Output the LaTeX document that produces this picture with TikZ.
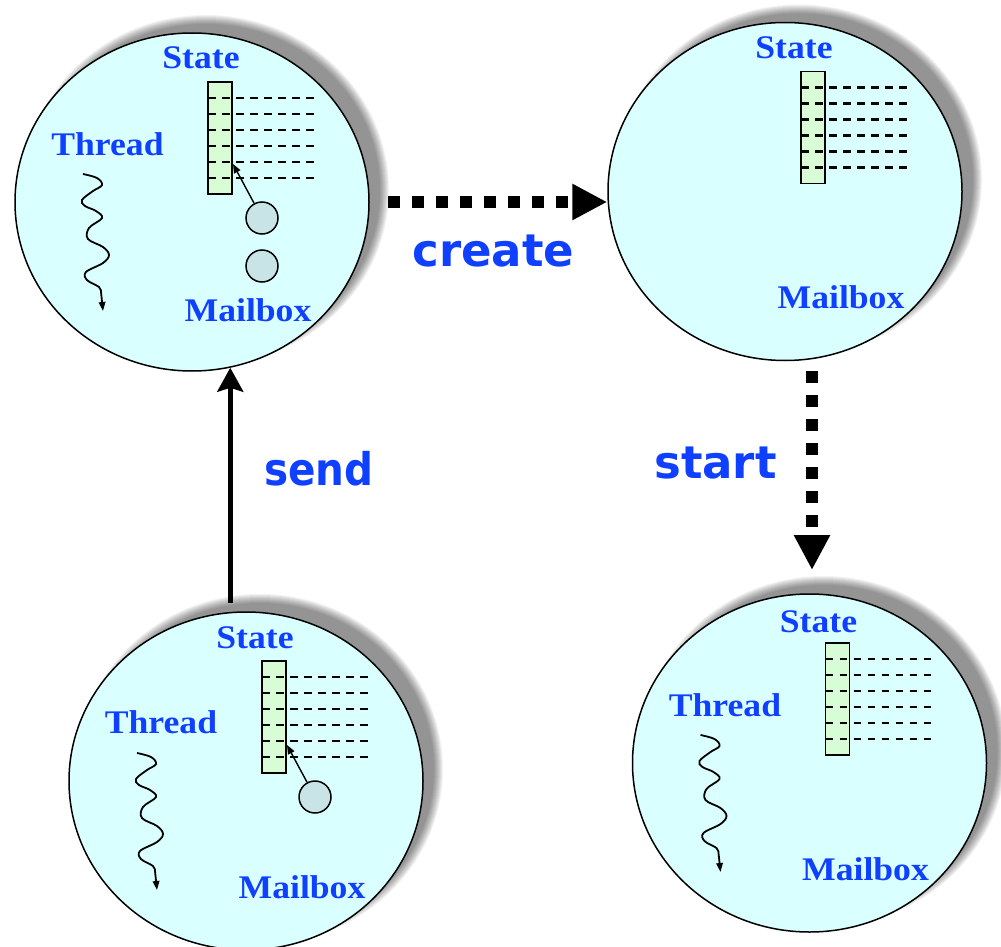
\documentclass[tikz,border=0pt]{standalone}
\usepackage{fontspec}
\usetikzlibrary{shapes.geometric,arrows.meta,calc}

\newfontfamily\labelfont{Liberation Serif}[FakeStretch=1.08]
\newfontfamily\actfont{DejaVu Sans}

\definecolor{cellfill}{RGB}{217,255,255}
\definecolor{statefill}{RGB}{216,253,214}
\definecolor{mboxfill}{RGB}{200,228,230}
\definecolor{inkblue}{RGB}{16,64,255}

\tikzset{
  actor/.style={ellipse, draw, line width=1.5pt, fill=cellfill,
    minimum width=354pt, minimum height=338pt, inner sep=0pt},
  shadowlayer/.style={fill=black, fill opacity=0.052},
  statebox/.style={draw, line width=1.6pt, fill=statefill},
  slot/.style={line width=2.1pt, dash pattern=on 7.5pt off 6.5pt},
  msg/.style={circle, draw, line width=1.5pt, fill=mboxfill,
    minimum size=32pt, inner sep=0pt},
  tag/.style={font=\labelfont\bfseries\fontsize{33}{36}\selectfont,
    text=inkblue, anchor=base, inner sep=0pt},
  verb/.style={font=\actfont\bfseries\fontsize{45}{50}\selectfont,
    text=inkblue, anchor=base, inner sep=0pt},
  pointer/.style={line width=1.4pt, -{Triangle[length=9pt,width=7pt]}},
  thread/.style={line width=1.8pt, -{Triangle[length=9pt,width=6.5pt]}},
  bigdots/.style={line width=12pt, dash pattern=on 12pt off 12pt,
    -{Triangle[length=35pt,width=34pt]}},
  sendline/.style={line width=4.5pt,
    -{Stealth[length=24pt,width=26pt,inset=4pt]}},
}

% soft drop shadow up and to the right of an actor
\newcommand\actorshadow{%
  \foreach \d in {0,...,9}
    \fill[shadowlayer] (14,-12) ellipse [x radius={174pt+\d pt}, y radius={166pt+\d pt}];
}
% state column with its six slot rows
\newcommand\statecolumn{%
  \draw[statebox] (16,-120) rectangle (40,-8);
  \foreach \yy in {-104,-88,-72,-56,-40,-24}
    \draw[slot] (16,\yy) -- (123,\yy);
}
% wavy thread of control
\newcommand\threadwave{%
  \draw[thread] plot[smooth, tension=0.6] coordinates {
    (-109,-28) (-95,-24) (-90,-17) (-99,-11) (-110,-2) (-107,4)
    (-96,9) (-90,16) (-103,26) (-104,37) (-89,45) (-83,53)
    (-89,61) (-106,70) (-105,78) (-93,85) (-91,90)} -- (-89,109);
}

\begin{document}
\begin{tikzpicture}[x=1pt, y=-1pt]
\useasboundingbox (0,0) rectangle (1001,947);
\fill[white] (0,0) rectangle (1001,947);

% actor with thread and two queued messages
\begin{scope}[shift={(192,202)}]
  \actorshadow
  \node[actor] (tl) at (0,0) {};
  \statecolumn
  \node[tag] (tlstate) at (9,-133) {State};
  \node[tag] (tlthread) at (-84.5,-47) {Thread};
  \node[tag] (tlmail) at (56,119) {Mailbox};
  \node[msg] (tlmsga) at (70,16) {};
  \node[msg] (tlmsgb) at (70,64) {};
  \coordinate (tlslot) at (41,-38);
  \draw[pointer] (tlmsga) -- (tlslot);
  \threadwave
\end{scope}

% freshly created actor
\begin{scope}[shift={(785,191.5)}]
  \actorshadow
  \node[actor] (tr) at (0,0) {};
  \statecolumn
  \node[tag] (trstate) at (9,-133) {State};
  \node[tag] (trmail) at (56,117) {Mailbox};
\end{scope}

% sending actor
\begin{scope}[shift={(246,781)}]
  \actorshadow
  \node[actor] (bl) at (0,0) {};
  \statecolumn
  \node[tag] (blstate) at (9,-133) {State};
  \node[tag] (blthread) at (-85,-48) {Thread};
  \node[tag] (blmail) at (56,117) {Mailbox};
  \node[msg] (blmsg) at (69,16) {};
  \coordinate (blslot) at (41,-36);
  \draw[pointer] (blmsg) -- (blslot);
  \threadwave
\end{scope}

% started actor
\begin{scope}[shift={(809.5,763)}]
  \actorshadow
  \node[actor] (br) at (0,0) {};
  \statecolumn
  \node[tag] (brstate) at (9,-131) {State};
  \node[tag] (brthread) at (-84.5,-47) {Thread};
  \node[tag] (brmail) at (56,117) {Mailbox};
  \threadwave
\end{scope}

% transitions
\draw[bigdots, shorten <=18pt] (tl.east) -- (tl.east -| tr.west);
\node[verb] (create) at (493.5,266.7) {create};

\coordinate (starttip) at (812,570);
\draw[bigdots, shorten <=10pt] (tr.south -| starttip) -- (starttip);
\node[verb] (start) at (715.5,478) {start};

\draw[sendline, shorten <=8pt] (tl.-77.7 |- bl.north) -- (tl.-77.7);
\node[verb] (send) at (319,485) {\scalebox{0.9}[1]{send}};
\end{tikzpicture}
\end{document}
